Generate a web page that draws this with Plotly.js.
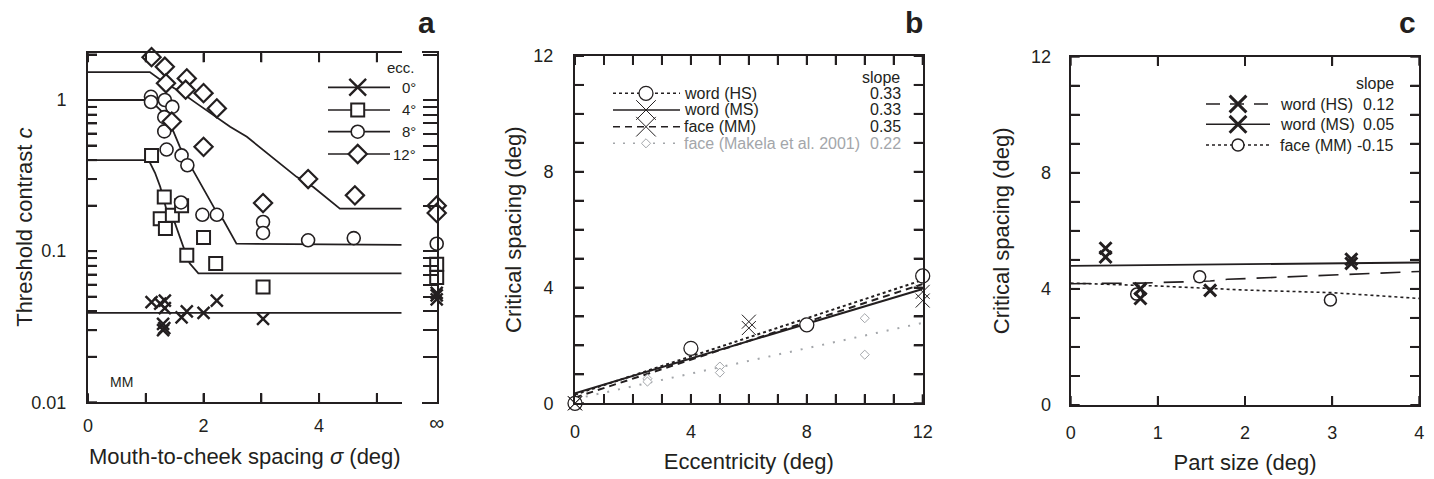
<!DOCTYPE html>
<html><head><meta charset="utf-8">
<script src="https://cdn.plot.ly/plotly-3.0.1.min.js"></script>
<style>body{margin:0;background:#fff}#chart{width:1434px;height:479px}</style>
</head><body><div id="chart"></div>
<script>
// ---------------- Panel a data (threshold contrast vs spacing) ----------------
const a_ecc0_x = [1.10, 1.25, 1.33, 1.33, 1.30, 1.30, 1.32, 1.62, 1.71, 2.00, 2.23, 3.03];
const a_ecc0_y = [0.046, 0.045, 0.047, 0.042, 0.033, 0.030, 0.031, 0.0365, 0.040, 0.039, 0.047, 0.0356];
const a_ecc4_x = [1.10, 1.32, 1.25, 1.46, 1.34, 1.62, 2.00, 1.71, 2.21, 3.03];
const a_ecc4_y = [0.43, 0.228, 0.164, 0.173, 0.141, 0.20, 0.123, 0.094, 0.083, 0.058];
const a_ecc8_x = [1.09, 1.09, 1.33, 1.46, 1.32, 1.32, 1.36, 1.62, 1.72, 1.61, 1.98, 2.23, 3.03, 3.03, 3.81, 4.60];
const a_ecc8_y = [1.05, 0.97, 1.00, 0.90, 0.77, 0.62, 0.47, 0.43, 0.37, 0.21, 0.174, 0.174, 0.156, 0.132, 0.118, 0.122];
const a_ecc12_x = [1.10, 1.33, 1.71, 1.35, 1.69, 2.00, 2.23, 1.45, 2.00, 3.81, 4.62, 3.03];
const a_ecc12_y = [1.92, 1.66, 1.39, 1.29, 1.17, 1.11, 0.88, 0.72, 0.49, 0.30, 0.234, 0.208];
// values at infinite spacing
const a_inf0_y = [0.053, 0.051, 0.048];
const a_inf4_y = [0.082, 0.067];
const a_inf8_y = [0.112];
const a_inf12_y = [0.200, 0.179];
// model curves
const a_fit0_x = [0, 5.43];
const a_fit0_y = [0.039, 0.039];
const a_fit4_x = [0, 1.05, 1.16, 1.25, 1.36, 1.505, 1.65, 1.76, 1.91, 5.43];
const a_fit4_y = [0.40, 0.40, 0.33, 0.267, 0.187, 0.153, 0.107, 0.083, 0.0713, 0.0713];
const a_fit8_x = [0, 1.07, 1.25, 1.42, 1.59, 1.82, 2.05, 2.23, 2.34, 2.45, 2.57, 5.43];
const a_fit8_y = [1.0, 1.0, 0.86, 0.70, 0.49, 0.344, 0.24, 0.18, 0.161, 0.135, 0.112, 0.110];
const a_fit12_x = [0, 1.07, 1.30, 1.59, 1.88, 2.17, 2.46, 2.75, 3.03, 3.32, 3.61, 3.90, 4.19, 4.36, 5.43];
const a_fit12_y = [1.53, 1.53, 1.32, 1.14, 0.95, 0.80, 0.665, 0.571, 0.466, 0.38, 0.31, 0.266, 0.217, 0.191, 0.191];
const a_xtickvals = [0, 1, 2, 3, 4, 5];
const a_xticktext = ['0', '', '2', '', '4', ''];
const a_ytickvals = [0.01,0.02,0.03,0.04,0.05,0.06,0.07,0.08,0.09,0.1,0.2,0.3,0.4,0.5,0.6,0.7,0.8,0.9,1,2];
const a_yticktext = ['0.01','','','','','','','','','0.1','','','','','','','','','1',''];
const a_legend_labels = ['0°', '4°', '8°', '12°'];

// ---------------- Panel b data (critical spacing vs eccentricity) ----------------
const b_hs_x = [0, 4, 8, 12];
const b_hs_y = [0, 1.90, 2.71, 4.40];
const b_ms_x = [0, 6, 12];
const b_ms_y = [0, 2.82, 3.85];
const b_mm_x = [0, 6, 12];
const b_mm_y = [0, 2.60, 3.55];
const b_mak_x = [2.5, 2.5, 5, 5, 10, 10];
const b_mak_y = [0.85, 0.75, 1.27, 1.06, 2.94, 1.68];
const b_fit_x = [0, 12];
const b_fit_hs_y = [0.30, 4.26];
const b_fit_ms_y = [0.35, 3.95];
const b_fit_mm_y = [0.20, 4.12];
const b_fit_mak_y = [0.15, 2.78];
const b_labels = ['word (HS)', 'word (MS)', 'face (MM)', 'face (Makela et al. 2001)'];
const b_slopes = ['0.33', '0.33', '0.35', '0.22'];

// ---------------- Panel c data (critical spacing vs part size) ----------------
const c_hs_x = [0.40, 0.80, 1.60, 3.22];
const c_hs_y = [5.10, 4.00, 3.95, 4.88];
const c_ms_x = [0.40, 0.80, 3.22];
const c_ms_y = [5.40, 3.67, 5.02];
const c_mm_x = [0.757, 1.48, 2.98];
const c_mm_y = [3.82, 4.42, 3.62];
const c_fit_ms_x = [0, 4];
const c_fit_ms_y = [4.79, 4.91];
const c_fit_hs_x = [0, 0.8, 1.6, 1.8, 4];
const c_fit_hs_y = [4.18, 4.20, 4.27, 4.33, 4.60];
const c_fit_mm_x = [0, 1, 2, 3, 4];
const c_fit_mm_y = [4.20, 4.10, 3.96, 3.87, 3.67];
const c_labels = ['word (HS)', 'word (MS)', 'face (MM)'];
const c_slopes = ['0.12', '0.05', '-0.15'];
const c_xtickvals = [0, 1, 2, 3, 4];

const lin_ticks = [0,1,2,3,4,5,6,7,8,9,10,11,12];
const lin_ticktext = ['0','','','','4','','','','8','','','','12'];

// ---------------- styling ----------------
const W = 1434, H = 479;
const INK = '#231f20', GREY = '#a3a6aa';
const FONT = 'Liberation Sans, Arial, Helvetica, sans-serif';
const px = v => v / W, py = v => 1 - v / H;

function mk(sym, size, lw, color) {
  const c = color || INK;
  const isX = sym.indexOf('x') === 0;
  return {symbol: sym, size: size, color: isX ? c : 'white', line: {color: c, width: lw}};
}
function ln(w, dash, color) { return {color: color || INK, width: w, dash: dash || 'solid'}; }

const traces = [];
// Panel a curves
[[a_fit0_x, a_fit0_y], [a_fit4_x, a_fit4_y], [a_fit8_x, a_fit8_y], [a_fit12_x, a_fit12_y]].forEach(p => {
  traces.push({x: p[0], y: p[1], xaxis: 'x', yaxis: 'y', mode: 'lines', line: ln(1.8), hoverinfo: 'skip', showlegend: false});
});
// Panel a points
const aSets = [
  [a_ecc0_x, a_ecc0_y, a_inf0_y, 'x-thin', 12, 2.4],
  [a_ecc4_x, a_ecc4_y, a_inf4_y, 'square', 13, 2],
  [a_ecc8_x, a_ecc8_y, a_inf8_y, 'circle', 13, 1.6],
  [a_ecc12_x, a_ecc12_y, a_inf12_y, 'diamond', 14, 2.2]
];
aSets.forEach(s => {
  traces.push({x: s[0], y: s[1], xaxis: 'x', yaxis: 'y', mode: 'markers', marker: mk(s[3], s[4], s[5]), cliponaxis: false, showlegend: false});
});
aSets.forEach(s => {
  traces.push({x: s[2].map(() => 0), y: s[2], xaxis: 'x2', yaxis: 'y2', mode: 'markers', marker: mk(s[3], s[4], s[5]), cliponaxis: false, showlegend: false});
});

// Panel b
traces.push({x: b_fit_x, y: b_fit_mak_y, xaxis: 'x3', yaxis: 'y3', mode: 'lines', line: ln(2, '2px,9px', GREY), showlegend: false});
traces.push({x: b_fit_x, y: b_fit_hs_y, xaxis: 'x3', yaxis: 'y3', mode: 'lines', line: ln(2, '3px,3px'), showlegend: false});
traces.push({x: b_fit_x, y: b_fit_mm_y, xaxis: 'x3', yaxis: 'y3', mode: 'lines', line: ln(2, '7px,5px'), showlegend: false});
traces.push({x: b_fit_x, y: b_fit_ms_y, xaxis: 'x3', yaxis: 'y3', mode: 'lines', line: ln(2), showlegend: false});
traces.push({x: b_mak_x, y: b_mak_y, xaxis: 'x3', yaxis: 'y3', mode: 'markers', marker: mk('diamond', 7, 1, GREY), cliponaxis: false, showlegend: false});
traces.push({x: b_hs_x, y: b_hs_y, xaxis: 'x3', yaxis: 'y3', mode: 'markers', marker: mk('circle', 14, 1.3), cliponaxis: false, showlegend: false});
traces.push({x: b_ms_x, y: b_ms_y, xaxis: 'x3', yaxis: 'y3', mode: 'markers', marker: mk('x-thin', 14, 1), cliponaxis: false, showlegend: false});
traces.push({x: b_mm_x, y: b_mm_y, xaxis: 'x3', yaxis: 'y3', mode: 'markers', marker: mk('x-thin', 14, 1), cliponaxis: false, showlegend: false});

// Panel c
traces.push({x: c_fit_mm_x, y: c_fit_mm_y, xaxis: 'x4', yaxis: 'y4', mode: 'lines', line: ln(1.6, '3px,3px'), showlegend: false});
traces.push({x: c_fit_hs_x, y: c_fit_hs_y, xaxis: 'x4', yaxis: 'y4', mode: 'lines', line: ln(1.6, '20px,11px'), showlegend: false});
traces.push({x: c_fit_ms_x, y: c_fit_ms_y, xaxis: 'x4', yaxis: 'y4', mode: 'lines', line: ln(1.8), showlegend: false});
traces.push({x: c_mm_x, y: c_mm_y, xaxis: 'x4', yaxis: 'y4', mode: 'markers', marker: mk('circle', 12, 1.5), cliponaxis: false, showlegend: false});
traces.push({x: c_hs_x, y: c_hs_y, xaxis: 'x4', yaxis: 'y4', mode: 'markers', marker: mk('x-thin', 12, 3), cliponaxis: false, showlegend: false});
traces.push({x: c_ms_x, y: c_ms_y, xaxis: 'x4', yaxis: 'y4', mode: 'markers', marker: mk('x-thin', 12, 3), cliponaxis: false, showlegend: false});

// ---------------- axes ----------------
const tickFont = {family: FONT, size: 18, color: INK};
const titleFont = {family: FONT, size: 22, color: INK};
const TL = 9, TW = 2;
function axisBase(extra) {
  return Object.assign({
    showline: true, linewidth: 2, linecolor: INK, ticks: 'inside', ticklen: TL, tickwidth: TW, tickcolor: INK,
    showgrid: false, zeroline: false, tickfont: tickFont, fixedrange: true
  }, extra);
}

const dom = {
  ax: [px(88), px(401.7)], ay: [py(402.3), py(53.3)],
  bx: [px(575), px(922.7)], by: [py(403.3), py(56)],
  cx: [px(1070.7), px(1419.3)], cy: [py(405), py(56.7)]
};
const aYRange = [-2, 0.309];

const layout = {
  width: W, height: H, margin: {l: 0, r: 0, t: 0, b: 0},
  paper_bgcolor: 'white', plot_bgcolor: 'rgba(0,0,0,0)',
  font: {family: FONT, color: INK},
  showlegend: false,
  xaxis: axisBase({domain: dom.ax, range: [0, 5.43], anchor: 'y', mirror: 'ticks',
    tickmode: 'array', tickvals: a_xtickvals, ticktext: a_xticktext, ticklabelstandoff: 6,
    title: {text: 'Mouth-to-cheek spacing <i>σ</i> (deg)', font: titleFont, standoff: 14}}),
  yaxis: axisBase({domain: dom.ay, type: 'log', range: aYRange, anchor: 'x',
    tickmode: 'array', tickvals: a_ytickvals, ticktext: a_yticktext, ticklabelstandoff: 16}),
  xaxis2: axisBase({domain: [px(421.7), px(436.7)], range: [-1, 0], anchor: 'y2', mirror: true, ticks: '',
    tickmode: 'array', tickvals: [0], ticktext: ['∞'], ticklabelstandoff: 0, tickfont: {family: FONT, size: 21, color: INK}}),
  yaxis2: axisBase({domain: dom.ay, type: 'log', range: aYRange, anchor: 'x2', side: 'right',
    tickmode: 'array', tickvals: a_ytickvals, showticklabels: false, ticklen: 14}),
  xaxis3: axisBase({domain: dom.bx, range: [0, 12], anchor: 'y3', mirror: 'ticks',
    tickmode: 'array', tickvals: lin_ticks, ticktext: lin_ticktext, ticklabelstandoff: 11,
    title: {text: 'Eccentricity (deg)', font: titleFont, standoff: 13}}),
  yaxis3: axisBase({domain: dom.by, range: [0, 12], anchor: 'x3', mirror: 'ticks',
    tickmode: 'array', tickvals: lin_ticks, ticktext: lin_ticktext, ticklabelstandoff: 16,
    title: {text: 'Critical spacing (deg)', font: titleFont, standoff: 6}}),
  xaxis4: axisBase({domain: dom.cx, range: [0, 4], anchor: 'y4', mirror: 'ticks',
    tickmode: 'array', tickvals: c_xtickvals, ticktext: c_xtickvals.map(String), ticklabelstandoff: 10,
    title: {text: 'Part size (deg)', font: titleFont, standoff: 13}}),
  yaxis4: axisBase({domain: dom.cy, range: [0, 12], anchor: 'x4', mirror: 'ticks',
    tickmode: 'array', tickvals: lin_ticks, ticktext: lin_ticktext, ticklabelstandoff: 14,
    title: {text: 'Critical spacing (deg)', font: titleFont, standoff: 15}}),
  annotations: [],
  shapes: []
};

const ann = layout.annotations, shp = layout.shapes;

// inward tick marks reinforced as paper-space shapes at the axes' own tick values
function tickShapes(vals, range, d, other, horiz, both, tf) {
  const f = tf || (v => v);
  vals.forEach(v => {
    const t = d[0] + (f(v) - range[0]) / (range[1] - range[0]) * (d[1] - d[0]);
    if (t < d[0] - 1e-6 || t > d[1] + 1e-6) return;
    const sides = both ? [0, 1] : [0];
    sides.forEach(s => {
      const sh = {type: 'line', xref: 'paper', yref: 'paper', layer: 'below', line: {color: INK, width: TW}};
      if (horiz) { // x-axis ticks: vertical stubs at bottom/top
        const y0 = other[s], dy = (s === 0 ? 1 : -1) * TL / H;
        Object.assign(sh, {x0: t, x1: t, y0: y0, y1: y0 + dy});
      } else { // y-axis ticks: horizontal stubs at left/right
        const x0 = other[s], dx = (s === 0 ? 1 : -1) * TL / W;
        Object.assign(sh, {x0: x0, x1: x0 + dx, y0: t, y1: t});
      }
      shp.push(sh);
    });
  });
}
tickShapes(a_xtickvals, [0, 5.43], dom.ax, dom.ay, true, true);
tickShapes(a_ytickvals, aYRange, dom.ay, dom.ax, false, false, Math.log10);
tickShapes(lin_ticks, [0, 12], dom.bx, dom.by, true, true);
tickShapes(lin_ticks, [0, 12], dom.by, dom.bx, false, true);
tickShapes(c_xtickvals, [0, 4], dom.cx, dom.cy, true, true);
tickShapes(lin_ticks, [0, 12], dom.cy, dom.cx, false, true);

function text(t, x, y, xanchor, size, color, extra) {
  ann.push(Object.assign({text: t, xref: 'paper', yref: 'paper', x: px(x), y: py(y), xanchor: xanchor, yanchor: 'middle',
    showarrow: false, font: {family: FONT, size: size, color: color || INK}}, extra || {}));
}
function hline(x0, x1, y, w, dash, color) {
  shp.push({type: 'line', xref: 'paper', yref: 'paper', x0: px(x0), x1: px(x1), y0: py(y), y1: py(y),
    line: {color: color || INK, width: w, dash: dash || 'solid'}});
}
function glyph(sym, cx, cy, s, lw, color) {
  const base = {xref: 'paper', yref: 'paper', xsizemode: 'pixel', ysizemode: 'pixel', xanchor: px(cx), yanchor: py(cy),
    line: {color: color || INK, width: lw}, fillcolor: 'white'};
  if (sym === 'circle') shp.push(Object.assign(base, {type: 'circle', x0: -s / 2, x1: s / 2, y0: -s / 2, y1: s / 2}));
  else if (sym === 'square') shp.push(Object.assign(base, {type: 'rect', x0: -s / 2, x1: s / 2, y0: -s / 2, y1: s / 2}));
  else if (sym === 'diamond') { const d = 0.65 * s; shp.push(Object.assign(base, {type: 'path', path: `M0,${d}L${d},0L0,${-d}L${-d},0Z`})); }
  else { const r = 0.7 * s; base.fillcolor = 'rgba(0,0,0,0)'; shp.push(Object.assign(base, {type: 'path', path: `M${-r},${-r}L${r},${r}M${-r},${r}L${r},${-r}`})); }
}

// y title of panel a (placed close to its tick labels, as in the reference)
text('Threshold contrast <i>c</i>', 25, 227.8, 'center', 22, INK, {textangle: -90});
// panel letters
text('<b>a</b>', 426.7, 23, 'center', 30);
text('<b>b</b>', 914, 23, 'center', 30);
text('<b>c</b>', 1407.5, 23, 'center', 30);
// MM label
text('MM', 108, 382, 'left', 14);

// legend a
text('ecc.', 417, 68, 'right', 15);
const aLegRows = [87.3, 110, 131.7, 154];
aSets.forEach((s, i) => {
  hline(328, 390, aLegRows[i], 1.7);
  glyph(s[3] === 'x-thin' ? 'x' : s[3], 357.7, aLegRows[i], s[4], s[5]);
  text(a_legend_labels[i], 418, aLegRows[i], 'right', 15);
});

// legend b
text('slope', 902, 77, 'right', 16);
const bRows = [93.3, 110, 126.7, 143.3];
const bStyles = [
  [1.5, '3px,3px', INK, 'circle', 14, 1.3],
  [1.5, 'solid', INK, 'x', 14, 1],
  [1.5, '7px,5px', INK, 'x', 14, 1],
  [1.5, '2px,8px', GREY, 'diamond', 7, 1]
];
bStyles.forEach((st, i) => {
  hline(613, 680, bRows[i], st[0], st[1], st[2]);
  glyph(st[3], 646, bRows[i], st[4], st[5], st[2]);
  const col = i === 3 ? GREY : INK;
  text(b_labels[i], 682, bRows[i], 'left', 16, col);
  text(b_slopes[i], 903, bRows[i], 'right', 16, col);
});

// legend c
text('slope', 1396, 83.3, 'right', 16);
const cRows = [104, 124.3, 145];
const cStyles = [
  [1.6, '14px,10px', 'x', 12, 3],
  [1.6, 'solid', 'x', 12, 3],
  [1.6, '3px,3px', 'circle', 12, 1.5]
];
cStyles.forEach((st, i) => {
  hline(1206, 1270, cRows[i], st[0], st[1]);
  glyph(st[2], 1238, cRows[i], st[3], st[4]);
  text(c_labels[i], 1278, cRows[i], 'left', 16);
  text(c_slopes[i], 1396, cRows[i], 'right', 16);
});

Plotly.newPlot('chart', traces, layout, {staticPlot: true, displayModeBar: false});
</script>
</body></html>
